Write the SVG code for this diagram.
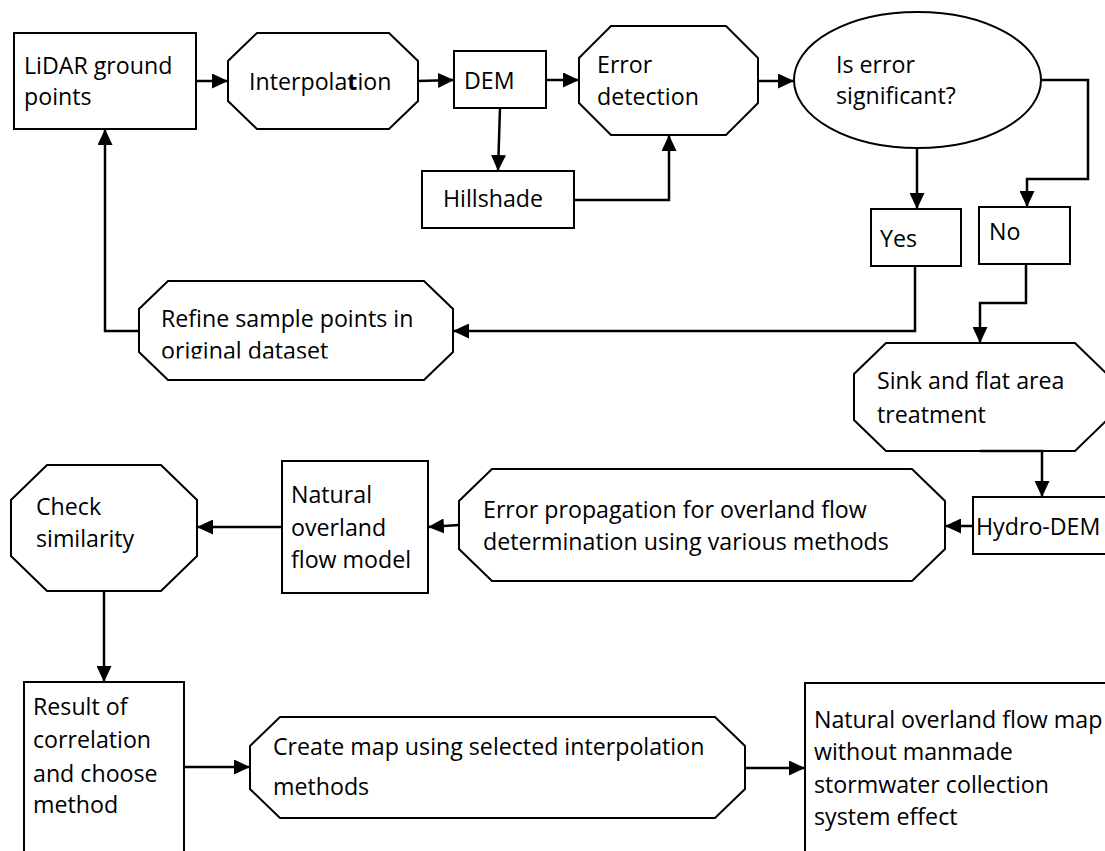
<svg xmlns="http://www.w3.org/2000/svg" width="1105" height="851" viewBox="0 0 1105 851">
<style>
.s{fill:#fff;stroke:#000;stroke-width:2}
.t{font-family:"Open Sans","Noto Sans","Liberation Sans",sans-serif;font-size:23.2px;fill:#000}
.c{fill:none;stroke:#000;stroke-width:2.5}
</style>
<defs>
<marker id="a" markerUnits="userSpaceOnUse" markerWidth="16" markerHeight="15" refX="16" refY="7.5" orient="auto">
<path d="M0,0 L16,7.5 L0,15 z" fill="#000"/>
</marker>
<clipPath id="clipRefine"><rect x="139" y="281" width="314" height="77.5"/></clipPath>
</defs>
<rect width="1105" height="851" fill="#fff"/>
<g id="n-lidar"><rect class="s" x="14" y="33" width="182" height="96"/><text class="t" x="24" y="74">LiDAR ground</text><text class="t" x="24" y="105">points</text></g>
<g id="n-interp"><polygon class="s" points="257,33 389,33 418,61 418,101 389,129 257,129 228,101 228,61"/><text class="t" x="249" y="90">Interpola<tspan font-weight="bold">t</tspan>ion</text></g>
<g id="n-dem"><rect class="s" x="454" y="51" width="92" height="57"/><text class="t" x="464" y="89">DEM</text></g>
<g id="n-errdet"><polygon class="s" points="611,26 726,26 758,58 758,103 726,135 611,135 579,103 579,58"/><text class="t" x="597" y="73">Error</text><text class="t" x="597" y="105">detection</text></g>
<g id="n-hill"><rect class="s" x="422" y="171" width="152" height="57"/><text class="t" x="443" y="207">Hillshade</text></g>
<g id="n-sig"><ellipse class="s" cx="917.5" cy="80" rx="123.5" ry="68"/><text class="t" x="836" y="73">Is error</text><text class="t" x="836" y="104">significant?</text></g>
<g id="n-yes"><rect class="s" x="871" y="209" width="90" height="57"/><text class="t" x="880" y="247">Yes</text></g>
<g id="n-no"><rect class="s" x="979" y="207" width="91" height="57"/><text class="t" x="989" y="240">No</text></g>
<g id="n-refine"><polygon class="s" points="168,281 424,281 453,309 453,352 424,380 168,380 139,352 139,309"/><text class="t" x="161" y="327">Refine sample points in</text><text class="t" x="161" y="359" clip-path="url(#clipRefine)">original dataset</text></g>
<g id="n-sink"><polygon class="s" points="886,343 1075,343 1107,374 1107,420 1075,451 886,451 854,420 854,374"/><text class="t" x="877" y="389">Sink and flat area</text><text class="t" x="877" y="423">treatment</text></g>
<g id="n-hydro"><rect class="s" x="973" y="497" width="140" height="57"/><text class="t" x="976" y="535">Hydro-DEM</text></g>
<g id="n-errprop"><polygon class="s" points="492,469 912,469 945,501 945,549 912,581 492,581 459,549 459,501"/><text class="t" x="483" y="518">Error propagation for overland flow</text><text class="t" x="483" y="550">determination using various methods</text></g>
<g id="n-natural"><rect class="s" x="282" y="461" width="146" height="132"/><text class="t" x="291" y="503">Natural</text><text class="t" x="291" y="536">overland</text><text class="t" x="291" y="568">flow model</text></g>
<g id="n-check"><polygon class="s" points="47,465 161,465 197,500 197,556 161,591 47,591 11,556 11,500"/><text class="t" x="36" y="515">Check</text><text class="t" x="36" y="547">similarity</text></g>
<g id="n-result"><rect class="s" x="24" y="682" width="160" height="180"/><text class="t" x="33" y="715">Result of</text><text class="t" x="33" y="748">correlation</text><text class="t" x="33" y="782">and choose</text><text class="t" x="33" y="813">method</text></g>
<g id="n-create"><polygon class="s" points="280,717 715,717 745,746 745,789 715,818 280,818 250,789 250,746"/><text class="t" x="273" y="755">Create map using selected interpolation</text><text class="t" x="273" y="795">methods</text></g>
<g id="n-map"><rect class="s" x="805" y="683" width="320" height="180"/><text class="t" x="814" y="728">Natural overland flow map</text><text class="t" x="814" y="760">without manmade</text><text class="t" x="814" y="793">stormwater collection</text><text class="t" x="814" y="825">system effect</text></g>
<g id="connectors">
<path class="c" marker-end="url(#a)" d="M196,81 L228,81"/>
<path class="c" marker-end="url(#a)" d="M418,81 L454,80"/>
<path class="c" marker-end="url(#a)" d="M546,80 L579,80"/>
<path class="c" marker-end="url(#a)" d="M500,108 L498,171"/>
<path class="c" marker-end="url(#a)" d="M574,200 L669,200 L669,135"/>
<path class="c" marker-end="url(#a)" d="M758,81 L794,81"/>
<path class="c" marker-end="url(#a)" d="M917,148 L917,209"/>
<path class="c" marker-end="url(#a)" d="M1041,80 L1088,80 L1088,179 L1027,179 L1027,207"/>
<path class="c" marker-end="url(#a)" d="M915,266 L915,331 L453,331"/>
<path class="c" marker-end="url(#a)" d="M139,331 L105,331 L105,129"/>
<path class="c" marker-end="url(#a)" d="M1026,264 L1026,303 L980,303 L980,343"/>
<path class="c" marker-end="url(#a)" d="M980,451 L1042,451 L1042,497"/>
<path class="c" marker-end="url(#a)" d="M973,526 L945,526"/>
<path class="c" marker-end="url(#a)" d="M459,525 L428,527"/>
<path class="c" marker-end="url(#a)" d="M282,527 L197,527"/>
<path class="c" marker-end="url(#a)" d="M104,591 L104,682"/>
<path class="c" marker-end="url(#a)" d="M184,767 L250,767"/>
<path class="c" marker-end="url(#a)" d="M745,768 L805,768"/>
</g>
</svg>
